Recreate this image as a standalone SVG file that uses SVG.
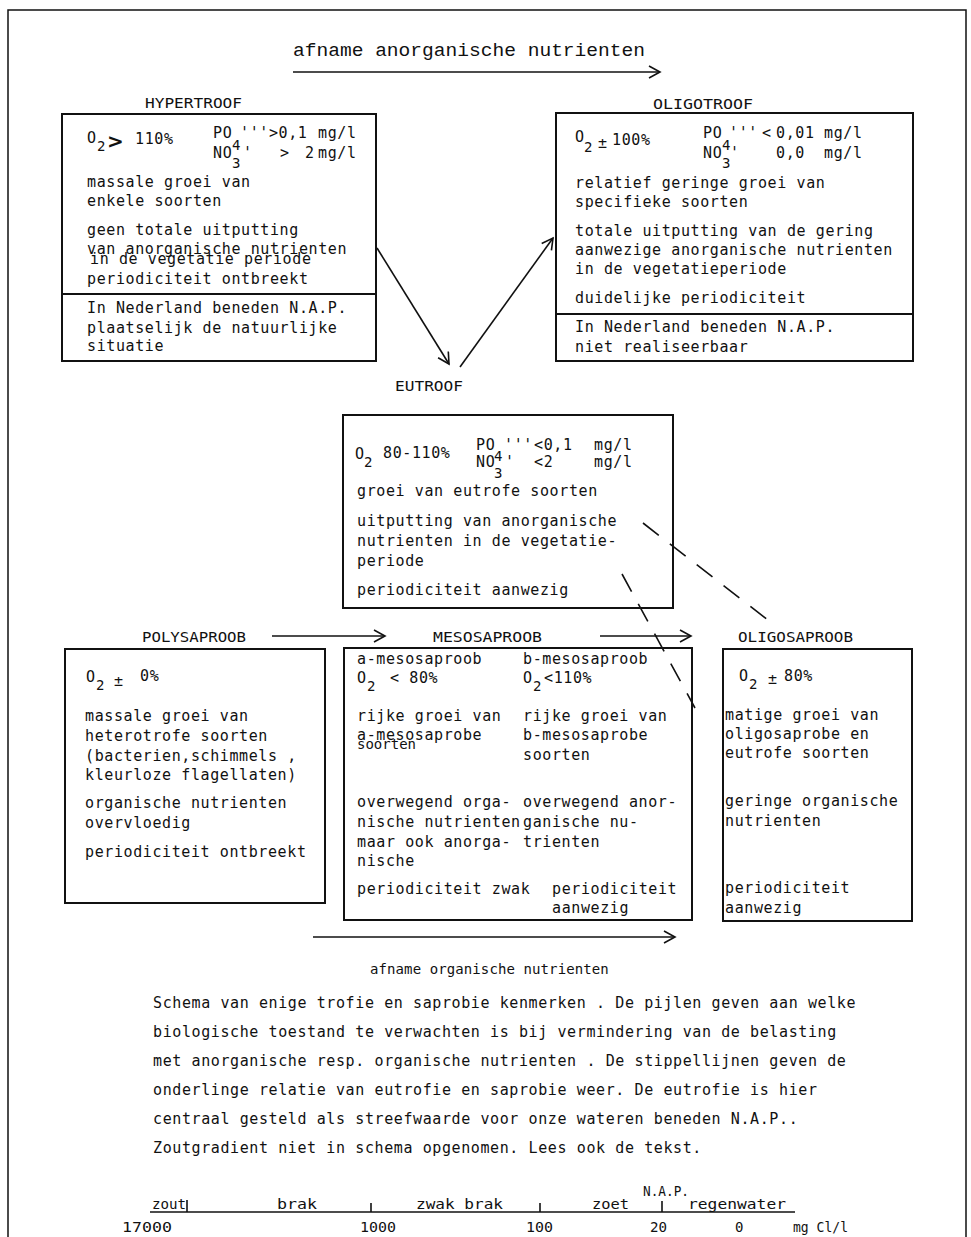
<svg xmlns="http://www.w3.org/2000/svg" width="971" height="1237" viewBox="0 0 971 1237">
<defs>
<style>
.t{font-family:"DejaVu Sans Mono","Liberation Mono",monospace;font-size:15px;letter-spacing:0.6px;fill:#111}
.s{font-family:"DejaVu Sans Mono","Liberation Mono",monospace;font-size:14px;fill:#111}
.lbl{font-family:"DejaVu Sans Mono","Liberation Mono",monospace;font-size:14px;fill:#111}
.ttl{font-family:"Liberation Mono",monospace;font-size:19px;fill:#111}
.box{fill:none;stroke:#111;stroke-width:2}
.conn{fill:none;stroke:#111;stroke-width:1.6}
.dash{fill:none;stroke:#111;stroke-width:1.6;stroke-dasharray:20 14}
.big{font-family:"DejaVu Sans","Liberation Sans",sans-serif;font-size:20px;font-weight:bold;fill:#111}
</style>
<marker id="ah" markerUnits="userSpaceOnUse" markerWidth="14" markerHeight="14" refX="12" refY="7" orient="auto">
<path d="M1,1 L12,7 L1,13" fill="none" stroke="#111" stroke-width="1.6"/>
</marker>
</defs>
<rect width="971" height="1237" fill="#fff"/>
<g id="page-border" fill="none" stroke="#111" stroke-width="1.5">
<path d="M8,1237 L8,10 L966,10 L966,1237"/>
</g>
<g id="title">
<text class="ttl" x="293" y="56" textLength="352" lengthAdjust="spacingAndGlyphs">afname anorganische nutrienten</text>
</g>

<g id="hypertroof">
<text class="lbl" x="145" y="108" textLength="97" lengthAdjust="spacingAndGlyphs">HYPERTROOF</text>
<rect class="box" x="62" y="114" width="314" height="247"/>
<line class="box" x1="62" y1="294" x2="376" y2="294"/>
<text class="t" x="87" y="143">O</text>
<text class="s" x="97" y="151">2</text>
<text class="big" x="107" y="148">&gt;</text>
<text class="t" x="135" y="144">110%</text>
<text class="t" x="213" y="138">PO</text>
<text class="s" x="232" y="150">4</text>
<text class="t" x="240" y="138">'''&gt;0,1</text>
<text class="t" x="318" y="138">mg/l</text>
<text class="t" x="213" y="158">NO</text>
<text class="s" x="232" y="168">3</text>
<text class="t" x="243" y="158">'</text>
<text class="t" x="280" y="158">&gt;</text>
<text class="t" x="305" y="158">2</text>
<text class="t" x="318" y="158">mg/l</text>
<text class="t" x="87" y="187">massale groei van</text>
<text class="t" x="87" y="206">enkele soorten</text>
<text class="t" x="87" y="235">geen totale uitputting</text>
<text class="t" x="87" y="254">van anorganische nutrienten</text>
<text class="t" x="90" y="264">in de vegetatie periode</text>
<text class="t" x="87" y="284">periodiciteit ontbreekt</text>
<text class="t" x="87" y="313">In Nederland beneden N.A.P.</text>
<text class="t" x="87" y="333">plaatselijk de natuurlijke</text>
<text class="t" x="87" y="351">situatie</text>
</g>

<g id="oligotroof">
<text class="lbl" x="653" y="109" textLength="100" lengthAdjust="spacingAndGlyphs">OLIGOTROOF</text>
<rect class="box" x="556" y="113" width="357" height="248"/>
<line class="box" x1="556" y1="314" x2="913" y2="314"/>
<text class="t" x="575" y="142">O</text>
<text class="s" x="584" y="152">2</text>
<text class="t" x="598" y="148">±</text>
<text class="t" x="612" y="145">100%</text>
<text class="t" x="703" y="138">PO</text>
<text class="s" x="722" y="150">4</text>
<text class="t" x="729" y="138">'''</text>
<text class="t" x="762" y="138">&lt;</text>
<text class="t" x="776" y="138">0,01</text>
<text class="t" x="824" y="138">mg/l</text>
<text class="t" x="703" y="158">NO</text>
<text class="s" x="722" y="168">3</text>
<text class="t" x="730" y="158">'</text>
<text class="t" x="776" y="158">0,0</text>
<text class="t" x="824" y="158">mg/l</text>
<text class="t" x="575" y="188">relatief geringe groei van</text>
<text class="t" x="575" y="207">specifieke soorten</text>
<text class="t" x="575" y="236">totale uitputting van de gering</text>
<text class="t" x="575" y="255">aanwezige anorganische nutrienten</text>
<text class="t" x="575" y="274">in de vegetatieperiode</text>
<text class="t" x="575" y="303">duidelijke periodiciteit</text>
<text class="t" x="575" y="332">In Nederland beneden N.A.P.</text>
<text class="t" x="575" y="352">niet realiseerbaar</text>
</g>

<g id="eutroof">
<text class="lbl" x="395" y="391" textLength="68" lengthAdjust="spacingAndGlyphs">EUTROOF</text>
<rect class="box" x="343" y="415" width="330" height="193"/>
<text class="t" x="355" y="459">O</text>
<text class="s" x="364" y="467">2</text>
<text class="t" x="383" y="458">80-110%</text>
<text class="t" x="476" y="450">PO</text>
<text class="s" x="494" y="461">4</text>
<text class="t" x="504" y="450">'''</text>
<text class="t" x="534" y="450">&lt;0,1</text>
<text class="t" x="594" y="450">mg/l</text>
<text class="t" x="476" y="467">NO</text>
<text class="s" x="494" y="478">3</text>
<text class="t" x="505" y="467">'</text>
<text class="t" x="534" y="467">&lt;2</text>
<text class="t" x="594" y="467">mg/l</text>
<text class="t" x="357" y="496">groei van eutrofe soorten</text>
<text class="t" x="357" y="526">uitputting van anorganische</text>
<text class="t" x="357" y="546">nutrienten in de vegetatie-</text>
<text class="t" x="357" y="566">periode</text>
<text class="t" x="357" y="595">periodiciteit aanwezig</text>
</g>

<g id="polysaproob">
<text class="lbl" x="142" y="642" textLength="104" lengthAdjust="spacingAndGlyphs">POLYSAPROOB</text>
<rect class="box" x="65" y="649" width="260" height="254"/>
<text class="t" x="86" y="682">O</text>
<text class="s" x="96" y="690">2</text>
<text class="t" x="114" y="686">±</text>
<text class="t" x="140" y="681">0%</text>
<text class="t" x="85" y="721">massale groei van</text>
<text class="t" x="85" y="741">heterotrofe soorten</text>
<text class="t" x="85" y="761">(bacterien,schimmels ,</text>
<text class="t" x="85" y="780">kleurloze flagellaten)</text>
<text class="t" x="85" y="808">organische nutrienten</text>
<text class="t" x="85" y="828">overvloedig</text>
<text class="t" x="85" y="857">periodiciteit ontbreekt</text>
</g>

<g id="mesosaproob">
<text class="lbl" x="433" y="642" textLength="109" lengthAdjust="spacingAndGlyphs">MESOSAPROOB</text>
<rect class="box" x="344" y="648" width="348" height="272"/>
<text class="t" x="357" y="664">a-mesosaproob</text>
<text class="t" x="523" y="664">b-mesosaproob</text>
<text class="t" x="357" y="683">O</text>
<text class="s" x="367" y="691">2</text>
<text class="t" x="390" y="683">&lt; 80%</text>
<text class="t" x="523" y="683">O</text>
<text class="s" x="533" y="691">2</text>
<text class="t" x="544" y="683">&lt;110%</text>
<text class="t" x="357" y="721">rijke groei van</text>
<text class="t" x="357" y="740">a-mesosaprobe</text>
<text class="s" x="357" y="749">soorten</text>
<text class="t" x="523" y="721">rijke groei van</text>
<text class="t" x="523" y="740">b-mesosaprobe</text>
<text class="t" x="523" y="760">soorten</text>
<text class="t" x="357" y="807">overwegend orga-</text>
<text class="t" x="357" y="827">nische nutrienten</text>
<text class="t" x="357" y="847">maar ook anorga-</text>
<text class="t" x="357" y="866">nische</text>
<text class="t" x="523" y="807">overwegend anor-</text>
<text class="t" x="523" y="827">ganische nu-</text>
<text class="t" x="523" y="847">trienten</text>
<text class="t" x="357" y="894">periodiciteit zwak</text>
<text class="t" x="552" y="894">periodiciteit</text>
<text class="t" x="552" y="913">aanwezig</text>
</g>

<g id="oligosaproob">
<text class="lbl" x="738" y="642" textLength="115" lengthAdjust="spacingAndGlyphs">OLIGOSAPROOB</text>
<rect class="box" x="723" y="649" width="189" height="272"/>
<text class="t" x="739" y="681">O</text>
<text class="s" x="749" y="689">2</text>
<text class="t" x="768" y="684">±</text>
<text class="t" x="784" y="681">80%</text>
<text class="t" x="725" y="720">matige groei van</text>
<text class="t" x="725" y="739">oligosaprobe en</text>
<text class="t" x="725" y="758">eutrofe soorten</text>
<text class="t" x="725" y="806">geringe organische</text>
<text class="t" x="725" y="826">nutrienten</text>
<text class="t" x="725" y="893">periodiciteit</text>
<text class="t" x="725" y="913">aanwezig</text>
</g>

<g id="connectors">
<line class="conn" x1="293" y1="72" x2="660" y2="72" marker-end="url(#ah)"/>
<line class="conn" x1="377" y1="248" x2="449" y2="364" marker-end="url(#ah)"/>
<line class="conn" x1="460" y1="367" x2="553" y2="238" marker-end="url(#ah)"/>
<line class="conn" x1="272" y1="636" x2="385" y2="636" marker-end="url(#ah)"/>
<line class="conn" x1="600" y1="636" x2="691" y2="636" marker-end="url(#ah)"/>
<line class="conn" x1="313" y1="937" x2="675" y2="937" marker-end="url(#ah)"/>
<line class="dash" x1="622" y1="574" x2="695" y2="708"/>
<line class="dash" x1="643" y1="523" x2="773" y2="624"/>
</g>

<g id="organic-label">
<text class="s" x="370" y="974" letter-spacing="0.1">afname organische nutrienten</text>
</g>

<g id="caption">
<text class="t" x="153" y="1008">Schema van enige trofie en saprobie kenmerken . De pijlen geven aan welke</text>
<text class="t" x="153" y="1037">biologische toestand te verwachten is bij vermindering van de belasting</text>
<text class="t" x="153" y="1066">met anorganische resp. organische nutrienten . De stippellijnen geven de</text>
<text class="t" x="153" y="1095">onderlinge relatie van eutrofie en saprobie weer. De eutrofie is hier</text>
<text class="t" x="153" y="1124">centraal gesteld als streefwaarde voor onze wateren beneden N.A.P..</text>
<text class="t" x="153" y="1153">Zoutgradient niet in schema opgenomen. Lees ook de tekst.</text>
</g>

<g id="salinity-scale">
<line class="conn" x1="150" y1="1212" x2="795" y2="1212"/>
<line class="conn" x1="187" y1="1200" x2="187" y2="1212"/>
<line class="conn" x1="371" y1="1203" x2="371" y2="1212"/>
<line class="conn" x1="540" y1="1203" x2="540" y2="1212"/>
<line class="conn" x1="662" y1="1201" x2="662" y2="1212"/>
<text class="lbl" x="152" y="1209" textLength="34" lengthAdjust="spacingAndGlyphs">zout</text>
<text class="lbl" x="277" y="1209" textLength="40" lengthAdjust="spacingAndGlyphs">brak</text>
<text class="lbl" x="416" y="1209" textLength="87" lengthAdjust="spacingAndGlyphs">zwak brak</text>
<text class="lbl" x="592" y="1209" textLength="37" lengthAdjust="spacingAndGlyphs">zoet</text>
<text class="s" x="643" y="1196" textLength="46" lengthAdjust="spacingAndGlyphs">N.A.P.</text>
<text class="lbl" x="688" y="1209" textLength="98" lengthAdjust="spacingAndGlyphs">regenwater</text>
<text class="lbl" x="122" y="1232" textLength="50" lengthAdjust="spacingAndGlyphs">17000</text>
<text class="lbl" x="360" y="1232" textLength="36" lengthAdjust="spacingAndGlyphs">1000</text>
<text class="lbl" x="526" y="1232" textLength="27" lengthAdjust="spacingAndGlyphs">100</text>
<text class="lbl" x="650" y="1232" textLength="17" lengthAdjust="spacingAndGlyphs">20</text>
<text class="lbl" x="735" y="1232">0</text>
<text class="lbl" x="793" y="1232" textLength="55" lengthAdjust="spacingAndGlyphs">mg Cl/l</text>
</g>
</svg>
